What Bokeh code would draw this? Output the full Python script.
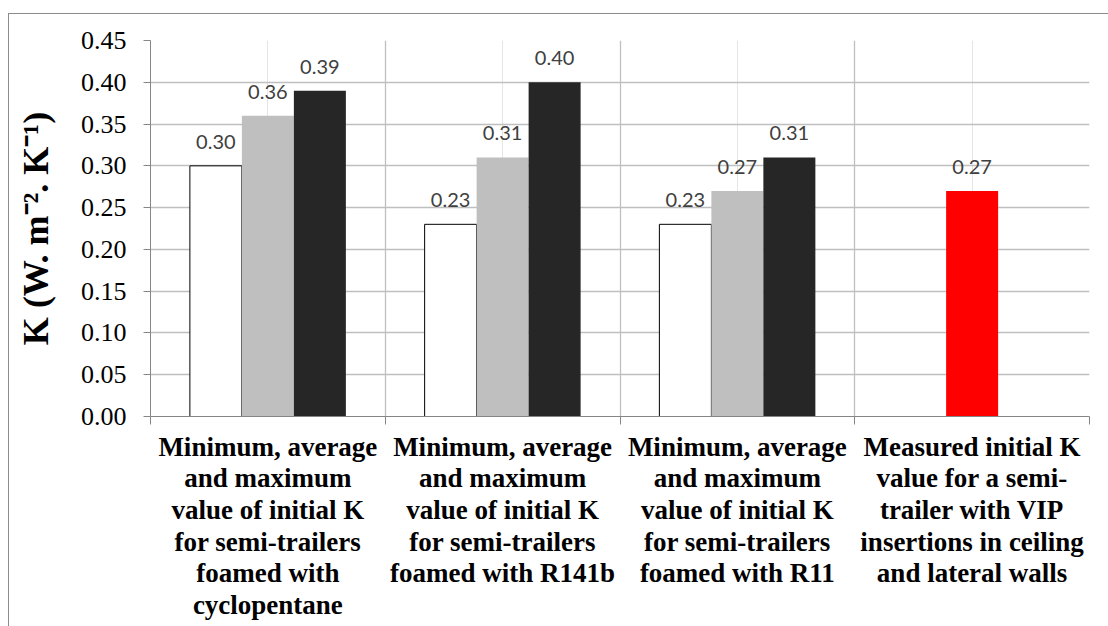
from bokeh.plotting import figure
from bokeh.models import (ColumnDataSource, Range1d, FactorRange, LinearAxis, FixedTicker,
                          NumeralTickFormatter, LabelSet, Grid)
from bokeh.core.properties import value
from bokeh.transform import dodge
from bokeh.embed import file_html
from bokeh.resources import INLINE

# ---------------- data ----------------
cat_keys = ["cyclopentane", "R141b", "R11", "VIP"]
cat_labels = [
    "Minimum, average\nand maximum\nvalue of initial K\nfor semi-trailers\nfoamed with\ncyclopentane",
    "Minimum, average\nand maximum\nvalue of initial K\nfor semi-trailers\nfoamed with R141b",
    "Minimum, average\nand maximum\nvalue of initial K\nfor semi-trailers\nfoamed with R11",
    "Measured initial K\nvalue for a semi-\ntrailer with VIP\ninsertions in ceiling\nand lateral walls",
]
k_min = [0.30, 0.23, 0.23, None]
k_avg = [0.36, 0.31, 0.27, 0.27]
k_max = [0.39, 0.40, 0.31, None]
y_ticks = [0.00, 0.05, 0.10, 0.15, 0.20, 0.25, 0.30, 0.35, 0.40, 0.45]
y_label = "K (W. m\u207b\u00b2. K\u207b\u00b9)"

# ---------------- styles ----------------
avg_colors = ["#bfbfbf", "#bfbfbf", "#bfbfbf", "#ff0000"]
BW = 0.2215
GRID = "#bfbfbf"
AXIS = "#868686"


def make_source(vals, colors=None):
    d = dict(cat=[], val=[], label=[], color=[])
    for i, (c, v) in enumerate(zip(cat_keys, vals)):
        if v is None:
            continue
        d["cat"].append(c)
        d["val"].append(v)
        d["label"].append(f"{v:.2f}")
        d["color"].append(colors[i] if colors else "#000000")
    return ColumnDataSource(d)


src_min = make_source(k_min)
src_avg = make_source(k_avg, avg_colors)
src_max = make_source(k_max)

p = figure(width=1108, height=626,
           x_range=FactorRange(factors=cat_keys),
           y_range=Range1d(0, y_ticks[-1]),
           output_backend="svg", toolbar_location=None,
           x_axis_location=None,
           min_border_left=150, min_border_top=40, min_border_right=19, min_border_bottom=210,
           border_fill_color=None, background_fill_color=None, outline_line_color=None)

p.styles = {
    "background": "linear-gradient(#8c8c8c,#8c8c8c) 8px 13px / 100% 1px no-repeat, "
                  "linear-gradient(#8c8c8c,#8c8c8c) 8px 13px / 1px 100% no-repeat, #ffffff"
}

n = len(cat_keys)
# factor i occupies synthetic coordinates [i, i+1] of the FactorRange
centers = [i + 0.5 for i in range(n)]
bounds = list(range(n + 1))

# x axis (labels centred, ticks at category boundaries)
xaxis = LinearAxis(
    ticker=FixedTicker(ticks=centers, minor_ticks=bounds),
    major_label_overrides={c: lab for c, lab in zip(centers, cat_labels)},
)
xaxis.axis_line_color = AXIS
xaxis.major_tick_line_color = None
xaxis.major_tick_out = 8
xaxis.major_tick_in = 0
xaxis.minor_tick_line_color = AXIS
xaxis.minor_tick_out = 8
xaxis.minor_tick_in = 0
xaxis.major_label_standoff = 7
xaxis.major_label_text_font = "Liberation Serif"
xaxis.major_label_text_font_style = "bold"
xaxis.major_label_text_font_size = "27px"
xaxis.major_label_text_color = "#000000"
xaxis.major_label_text_line_height = 1.056
p.add_layout(xaxis, "below")

# grids
p.add_layout(Grid(dimension=0, ticker=FixedTicker(ticks=bounds),
                  grid_line_color=GRID, grid_line_width=1.3))
p.ygrid.ticker = FixedTicker(ticks=y_ticks)
p.ygrid.grid_line_color = GRID
p.ygrid.grid_line_width = 1.3

# y axis
yaxis = p.yaxis[0]
yaxis.ticker = FixedTicker(ticks=y_ticks)
yaxis.formatter = NumeralTickFormatter(format="0.00")
yaxis.axis_line_color = AXIS
yaxis.major_tick_line_color = AXIS
yaxis.major_tick_out = 7
yaxis.major_tick_in = 0
yaxis.minor_tick_line_color = None
yaxis.major_label_standoff = 17
yaxis.major_label_text_font = "Liberation Serif"
yaxis.major_label_text_font_size = "26px"
yaxis.major_label_text_color = "#000000"
yaxis.axis_label = y_label
yaxis.axis_label_text_font = "Liberation Serif"
yaxis.axis_label_text_font_style = "bold"
yaxis.axis_label_text_font_size = "36px"
yaxis.axis_label_text_color = "#000000"
yaxis.axis_label_standoff = 22

# bars
p.vbar(x=dodge("cat", -BW, range=p.x_range), top="val", width=BW, source=src_min,
       fill_color="#ffffff", line_color="#000000", line_width=1)
p.vbar(x=dodge("cat", 0, range=p.x_range), top="val", width=BW, source=src_avg,
       fill_color="color", line_color=None)
p.vbar(x=dodge("cat", BW, range=p.x_range), top="val", width=BW, source=src_max,
       fill_color="#262626", line_color=None)

# value labels
for off, src in ((-BW, src_min), (0, src_avg), (BW, src_max)):
    p.add_layout(LabelSet(x=dodge("cat", off, range=p.x_range), y="val", text="label",
                          source=src, text_align="center", text_baseline="alphabetic",
                          y_offset=17, text_font=value("Lato"), text_font_size="20px",
                          text_color="#404040"))

open("out.html", "w").write(file_html(p, INLINE))
